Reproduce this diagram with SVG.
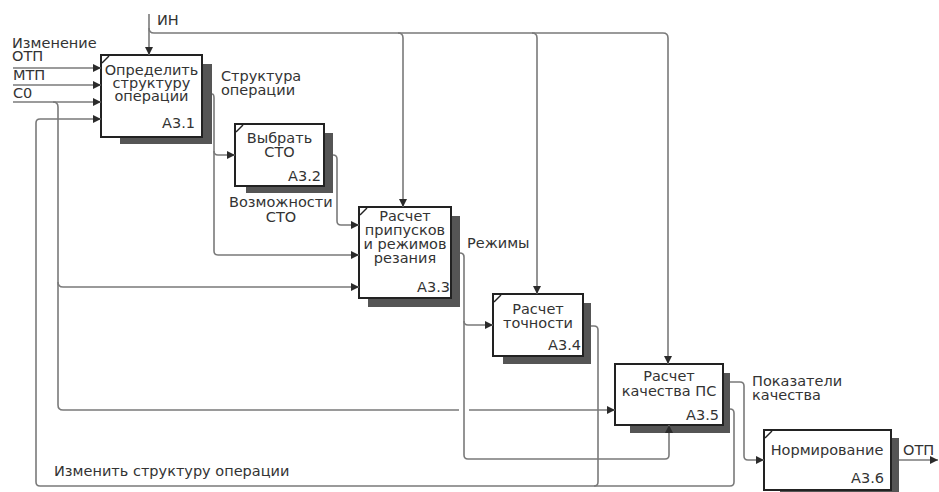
<svg xmlns="http://www.w3.org/2000/svg" width="939" height="492" viewBox="0 0 939 492">
<defs>
<marker id="ar" markerUnits="userSpaceOnUse" viewBox="0 0 10 10" refX="10" refY="5" markerWidth="10" markerHeight="8" orient="auto">
<path d="M0,0 L10,5 L0,10 z" fill="#2b2b2b"/>
</marker>
</defs>
<style>
.box{fill:#fff;stroke:#222;stroke-width:2}
.sh{fill:#555}
.cm{stroke:#222;stroke-width:1.4}
.t{font-family:"DejaVu Sans",Verdana,sans-serif;font-size:14.5px;fill:#333}
.c{text-anchor:middle}
.e{text-anchor:end}
.ln{fill:none;stroke:#7a7a7a;stroke-width:1.6}
.a{marker-end:url(#ar)}
</style>
<rect width="939" height="492" fill="#fff"/>
<g id="A3.1">
<rect class="sh" x="120" y="64" width="92" height="80"/>
<rect class="box" x="101" y="55" width="101" height="82"/>
<line class="cm" x1="102" y1="63" x2="109" y2="56"/>
<text class="t c" x="151.5" y="75">Определить</text>
<text class="t c" x="151.5" y="88">структуру</text>
<text class="t c" x="151.5" y="101">операции</text>
<text class="t e" x="195" y="128">A3.1</text>
</g>
<g id="A3.2">
<rect class="sh" x="246" y="133" width="87" height="60"/>
<rect class="box" x="235" y="124" width="89" height="62"/>
<line class="cm" x1="236" y1="132" x2="243" y2="125"/>
<text class="t c" x="279.5" y="143">Выбрать</text>
<text class="t c" x="279.5" y="157">СТО</text>
<text class="t e" x="321" y="181">A3.2</text>
</g>
<g id="A3.3">
<rect class="sh" x="368" y="216" width="92" height="91"/>
<rect class="box" x="359" y="207" width="92" height="91"/>
<line class="cm" x1="360" y1="215" x2="367" y2="208"/>
<text class="t c" x="405" y="221">Расчет</text>
<text class="t c" x="405" y="235">припусков</text>
<text class="t c" x="405" y="249">и режимов</text>
<text class="t c" x="405" y="263">резания</text>
<text class="t e" x="450" y="292">A3.3</text>
</g>
<g id="A3.4">
<rect class="sh" x="503" y="303" width="88" height="61"/>
<rect class="box" x="493" y="294" width="90" height="62"/>
<line class="cm" x1="494" y1="302" x2="501" y2="295"/>
<text class="t c" x="538" y="314">Расчет</text>
<text class="t c" x="538" y="328">точности</text>
<text class="t e" x="581" y="350">A3.4</text>
</g>
<g id="A3.5">
<rect class="sh" x="630" y="373" width="100" height="60"/>
<rect class="box" x="615" y="364" width="108" height="61"/>
<text class="t c" x="669" y="381">Расчет</text>
<text class="t c" x="669" y="396">качества ПС</text>
<text class="t e" x="719" y="420">A3.5</text>
</g>
<g id="A3.6">
<rect class="sh" x="780" y="438" width="119" height="60"/>
<rect class="box" x="764" y="430" width="127" height="60"/>
<line class="cm" x1="765" y1="438" x2="772" y2="431"/>
<text class="t c" x="827" y="455">Нормирование</text>
<text class="t e" x="884" y="483">A3.6</text>
</g>
<g id="connectors">
<path class="ln a" d="M149,14 L149,55"/>
<path class="ln a" d="M149,28 Q149,33 154,33 L663,33 Q668,33 668,38 L668,364"/>
<path class="ln a" d="M398,33 Q403,33 403,38 L403,207"/>
<path class="ln a" d="M532,33 Q537,33 537,38 L537,294"/>
<path class="ln a" d="M13,68 L101,68"/>
<path class="ln a" d="M13,85 L101,85"/>
<path class="ln a" d="M13,102 L101,102"/>
<path class="ln" d="M53,102 Q58,102 58,107 L58,405 Q58,410 63,410 L459,410"/>
<path class="ln a" d="M469,410 L615,410"/>
<path class="ln a" d="M58,282 Q58,287 63,287 L359,287"/>
<path class="ln a" d="M730,409 Q734,409 734,413 L734,482 Q734,486 730,486 L40,486 Q36,486 36,482 L36,123 Q36,119 40,119 L101,119"/>
<path class="ln" d="M591,326 L594,326 Q598,326 598,330 L598,482 Q598,486 594,486"/>
<path class="ln a" d="M212,94 Q214,94 214,98 L214,251 Q214,255 218,255 L359,255"/>
<path class="ln a" d="M214,151 Q214,155 218,155 L235,155"/>
<path class="ln a" d="M333,155 Q337,155 337,159 L337,221 Q337,225 341,225 L359,225"/>
<path class="ln a" d="M460,253 Q464,253 464,257 L464,455 Q464,459 468,459 L665,459 Q669,459 669,455 L669,425"/>
<path class="ln a" d="M464,321 Q464,325 468,325 L493,325"/>
<path class="ln a" d="M730,382 L740,382 Q744,382 744,386 L744,456 Q744,460 748,460 L764,460"/>
<path class="ln a" d="M899,460 L938,460"/>
</g>
<g id="labels">
<text class="t" x="157" y="25">ИН</text>
<text class="t" x="12" y="48">Изменение</text>
<text class="t" x="12" y="61">ОТП</text>
<text class="t" x="13" y="80">МТП</text>
<text class="t" x="13" y="98">С0</text>
<text class="t" x="221" y="81">Структура</text>
<text class="t" x="221" y="95">операции</text>
<text class="t" x="229" y="207">Возможности</text>
<text class="t c" x="281" y="222">СТО</text>
<text class="t" x="467" y="248">Режимы</text>
<text class="t" x="752" y="386">Показатели</text>
<text class="t" x="752" y="400">качества</text>
<text class="t" x="903" y="455">ОТП</text>
<text class="t" x="54" y="476">Изменить структуру операции</text>
</g>
</svg>
